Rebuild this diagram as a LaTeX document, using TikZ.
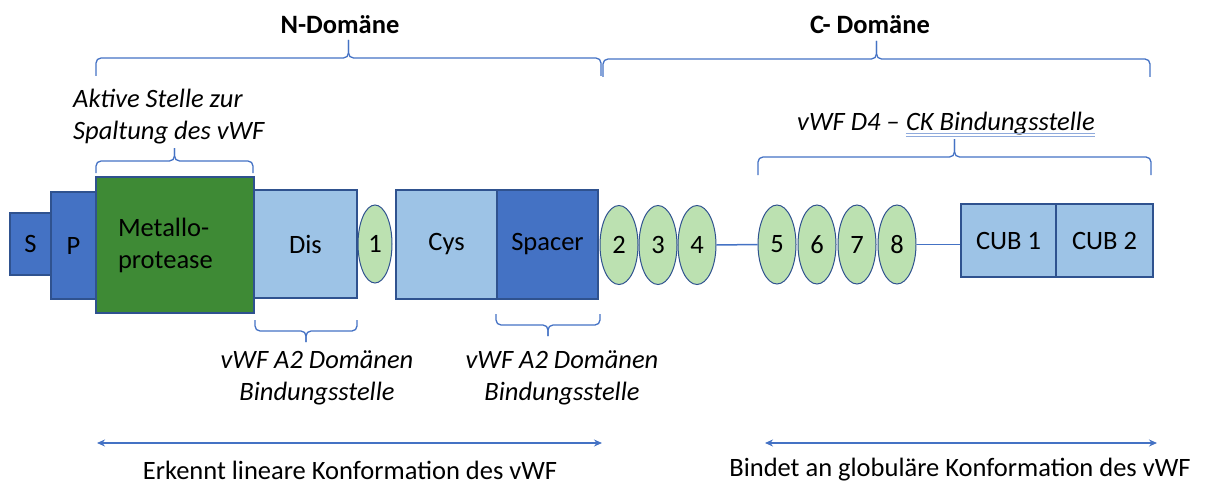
\documentclass[tikz,border=0pt]{standalone}
\usepackage{fontspec}
\setmainfont{Carlito}
\usetikzlibrary{calc,arrows.meta,shapes.geometric}

\definecolor{accblue}{HTML}{4472C4}
\definecolor{edgeblue}{HTML}{2F528F}
\definecolor{lightblue}{HTML}{9DC3E6}
\definecolor{metalgreen}{HTML}{3E8A35}
\definecolor{palegreen}{HTML}{BCE1B1}
\definecolor{markblue}{HTML}{8FAADC}

\newcommand\lblsize{\fontsize{26.5}{32}\selectfont}

% curly brace with short rounded hooks: ends #1, #2; #3 = hook height, #4 = twice that
\newcommand\wordbrace[4]{%
  \draw[bracestyle] (#1) -- ($(#1)+(0,#3)$) -- ($(#1)!0.5!(#2)+(0,#3)$) -- ($(#1)!0.5!(#2)+(0,#4)$);
  \draw[bracestyle] ($(#1)!0.5!(#2)+(0,#4)$) -- ($(#1)!0.5!(#2)+(0,#3)$) -- ($(#2)+(0,#3)$) -- (#2);}

\tikzset{
  box/.style={draw=edgeblue, line width=1.2pt, inner sep=0pt, font=\lblsize},
  darkbox/.style={box, fill=accblue},
  lightbox/.style={box, fill=lightblue},
  ring/.style={ellipse, draw=edgeblue, fill=palegreen, line width=1pt, inner sep=0pt,
    minimum width=38pt, minimum height=79pt, font=\lblsize},
  link/.style={draw=accblue, line width=1.5pt},
  bracestyle/.style={draw=accblue, line width=1.3pt, rounded corners=5pt},
  span/.style={draw=accblue, line width=1.2pt,
    {Stealth[length=8pt,width=7pt]}-{Stealth[length=8pt,width=7pt]}},
  note/.style={font=\itshape\lblsize, inner sep=0pt},
  plain/.style={font=\lblsize, inner sep=0pt},
  heading/.style={font=\bfseries\lblsize, inner sep=0pt},
}

\begin{document}
\begin{tikzpicture}[x=1pt,y=-1pt]
\useasboundingbox (0,0) rectangle (1208,487);

% domain blocks
\node[darkbox, minimum width=41pt, minimum height=62pt] (S) at (30.5,244) {S};
\node[darkbox, minimum width=45pt, minimum height=107pt] (P) at (73.5,245.5) {P};
\node[box, fill=metalgreen, minimum width=158pt, minimum height=136pt,
      align=left, text width=114pt] (metal) at (175,245) {Metallo-\\protease};
\node[lightbox, minimum width=103pt, minimum height=108pt] (dis) at (305.5,244) {Dis\hspace{13pt}};
\node[ring, minimum width=34pt, minimum height=78pt] (e1) at (375,244) {1};
\node[lightbox, minimum width=101pt, minimum height=109pt] (cys) at (446.5,244.5) {Cys\hspace{8pt}};
\node[darkbox, minimum width=101pt, minimum height=109pt] (spacer) at (547.5,244.5) {Spacer};
\node[ring] (e2) at (619,245) {2};
\node[ring] (e3) at (658,245) {3};
\node[ring] (e4) at (697,245) {4};
\node[ring] (e5) at (777,244.5) {5};
\node[ring] (e6) at (817,244.5) {6};
\node[ring] (e7) at (857,244.5) {7};
\node[ring] (e8) at (897,244.5) {8};
\node[lightbox, minimum width=95pt, minimum height=73pt] (cub1) at (1008.5,240.5) {CUB 1};
\node[lightbox, minimum width=97pt, minimum height=73pt] (cub2) at (1104.5,240.5) {CUB 2};

% linkers between domains
\draw[link] (e4.east) -- (e5.west);
\draw[link] (e8.east) -- (e8.east -| cub1.west);

% domain braces and headings
\coordinate (nL) at (96,76);   \coordinate (nR) at (601,76);
\coordinate (cL) at (603,77);  \coordinate (cR) at (1150,77);
\wordbrace{nL}{nR}{-18}{-36}
\wordbrace{cL}{cR}{-18}{-36}
\node[heading] (nhead) at (340,25) {N-Domäne};
\node[heading] (chead) at (870,25) {C- Domäne};

% cleavage site
\coordinate (mL) at (96,173);  \coordinate (mR) at (253,173);
\wordbrace{mL}{mR}{-12}{-25}
\node[note, anchor=west, align=left] (cleave) at (73,116.5) {Aktive Stelle zur\\Spaltung des vWF};

% D4-CK binding site
\coordinate (dL) at (758,175); \coordinate (dR) at (1151,175);
\wordbrace{dL}{dR}{-18}{-36}
\node[note, anchor=base west] (d4a) at (797,130) {vWF D4 –};
\node[note, anchor=base west] (d4b) at ([xshift=6pt]d4a.base east) {CK Bindungsstelle};
\draw[markblue, line width=0.9pt] ([yshift=-3pt]d4b.base west) -- ([yshift=-3pt]d4b.base east);
\draw[markblue, line width=0.9pt] ([yshift=-6.5pt]d4b.base west) -- ([yshift=-6.5pt]d4b.base east);

% A2 binding sites
\coordinate (aL) at (255,320); \coordinate (aR) at (357,320);
\wordbrace{aL}{aR}{11}{22}
\coordinate (bL) at (496,314); \coordinate (bR) at (600,314);
\wordbrace{bL}{bR}{11}{22}
\node[note, align=center] (a2one) at (317,377.5) {vWF A2 Domänen\\Bindungsstelle};
\node[note, align=center] (a2two) at (562,377.5) {vWF A2 Domänen\\Bindungsstelle};

% conformation ranges
\coordinate (la) at (97,443);  \coordinate (lb) at (602,443);
\coordinate (ra) at (765,443); \coordinate (rb) at (1157,443);
\draw[span] (la) -- (lb);
\draw[span] (ra) -- (rb);
\node[plain] (lin) at (350,470) {Erkennt lineare Konformation des vWF};
\node[plain] (glob) at (960,470) {Bindet an globuläre Konformation des vWF};
\end{tikzpicture}
\end{document}
